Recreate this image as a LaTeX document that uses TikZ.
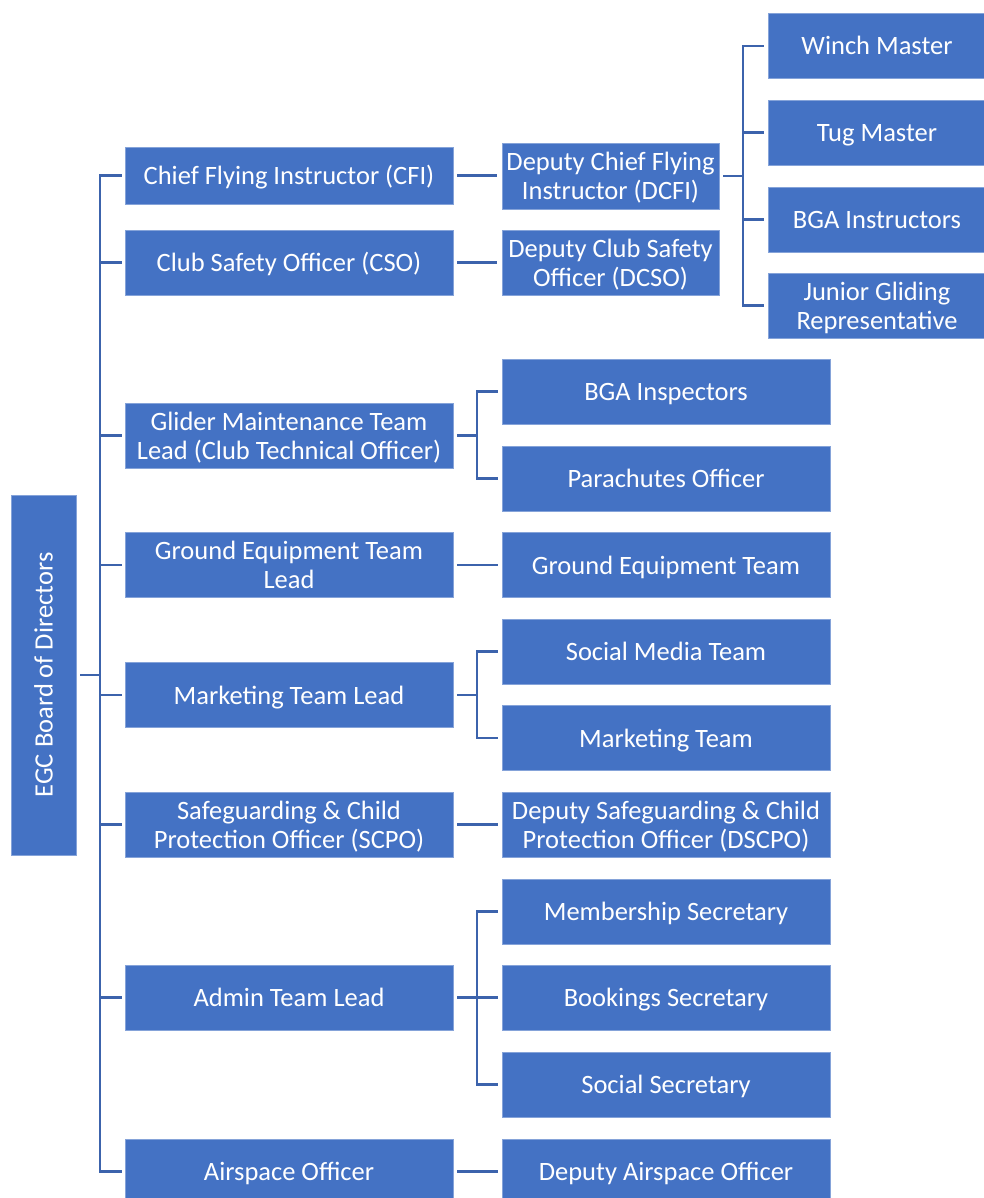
\documentclass[tikz,border=0pt]{standalone}
\usepackage{fontspec}
\usepackage{graphicx}
\setmainfont{Carlito}
\definecolor{boxblue}{HTML}{4472C4}
\definecolor{lineblue}{HTML}{3C63AC}
\newcommand\fstr{\rule[-8pt]{0pt}{34pt}}
\newcommand\lstr{\rule[-8pt]{0pt}{29pt}}
\begin{document}
\begin{tikzpicture}[x=1pt,y=-1pt,
  box/.style={rectangle, fill=boxblue, draw=white!35!boxblue, line width=0.8pt,
    text=white, font=\fontsize{26.5}{29}\selectfont, align=center,
    inner sep=0pt, minimum height=65pt},
  one/.style={text height=23pt, text depth=5pt},
  cone/.style={box, minimum width=328pt},
  ctwo/.style={box, minimum width=328pt},
  cnarrow/.style={box, minimum width=217pt},
  cthree/.style={box, minimum width=218pt},
  conn/.style={draw=lineblue, line width=2.2pt}
]
\useasboundingbox (0,0) rectangle (984,1198);
\clip (0,0) rectangle (984,1198);
\fill[white] (0,0) rectangle (984,1198);

% board
\node[box, minimum width=65pt, minimum height=360pt] (board) at (43.5,675) {\rotatebox{90}{EGC Board of Directors}};

% column 1
\node[cone, one, minimum height=57pt] (cfi) at (289,175.5) {Chief Flying Instructor (CFI)};
\node[cone, one] (cso) at (289,262.5) {Club Safety Officer (CSO)};
\node[cone] (glider) at (289,435.5) {\fstr Glider Maintenance Team\\\lstr Lead (Club Technical Officer)};
\node[cone] (gel) at (289,565) {\fstr Ground Equipment Team\\\lstr Lead};
\node[cone, one] (mtl) at (289,695) {Marketing Team Lead};
\node[cone] (scpo) at (289,824.5) {\fstr Safeguarding \& Child\\\lstr Protection Officer (SCPO)};
\node[cone, one] (admin) at (289,997.5) {Admin Team Lead};
\node[cone, one] (air) at (289,1171.5) {Airspace Officer};

% column 2
\node[cnarrow, minimum height=66pt] (dcfi) at (610.5,176) {\fstr Deputy Chief Flying\\\lstr Instructor (DCFI)};
\node[cnarrow] (dcso) at (610.5,262.5) {\fstr Deputy Club Safety\\\lstr Officer (DCSO)};
\node[ctwo, one] (bgai) at (666,391.5) {BGA Inspectors};
\node[ctwo, one] (para) at (666,478.5) {Parachutes Officer};
\node[ctwo, one] (get) at (666,565) {Ground Equipment Team};
\node[ctwo, one] (smt) at (666,651.5) {Social Media Team};
\node[ctwo, one] (mt) at (666,738) {Marketing Team};
\node[ctwo] (dscpo) at (666,824.5) {\fstr Deputy Safeguarding \& Child\\\lstr Protection Officer (DSCPO)};
\node[ctwo, one] (mem) at (666,911.5) {Membership Secretary};
\node[ctwo, one] (book) at (666,997.5) {Bookings Secretary};
\node[ctwo, one] (soc) at (666,1084.5) {Social Secretary};
\node[ctwo, one] (dair) at (666,1171.5) {Deputy Airspace Officer};

% column 3
\node[cthree, one] (winch) at (877,46) {Winch Master};
\node[cthree, one] (tug) at (877,132.5) {Tug Master};
\node[cthree, one] (bgain) at (877,219.5) {BGA Instructors};
\node[cthree] (jgr) at (877,305.5) {\fstr Junior Gliding\\\lstr Representative};

% bus coordinates
\coordinate (trunk) at (100,0);
\coordinate (bus) at (477,0);
\coordinate (busb) at (743,0);

% board to column 1
\draw[conn, shorten <=4pt] (board.east) -- (trunk |- board.east);
\draw[conn, shorten <=3pt, shorten >=3pt] (cfi.west) -| (trunk |- air.west) -- (air.west);
\foreach \n in {cso,glider,gel,mtl,scpo,admin}
  \draw[conn, shorten >=3pt] (trunk |- \n.west) -- (\n.west);

% single links
\draw[conn, shorten <=4pt, shorten >=5pt] (cfi.east) -- (cfi.east -| dcfi.west);
\draw[conn, shorten <=4pt, shorten >=5pt] (cso.east) -- (dcso.west);
\draw[conn, shorten <=4pt, shorten >=4pt] (gel.east) -- (get.west);
\draw[conn, shorten <=4pt, shorten >=4pt] (scpo.east) -- (dscpo.west);
\draw[conn, shorten <=4pt, shorten >=4pt] (air.east) -- (dair.west);

% glider bracket
\draw[conn, shorten <=4pt] (glider.east) -- (bus |- glider.east);
\draw[conn, shorten <=4pt, shorten >=4pt] (bgai.west) -| (bus |- para.west) -- (para.west);

% marketing bracket
\draw[conn, shorten <=4pt] (mtl.east) -- (bus |- mtl.east);
\draw[conn, shorten <=4pt, shorten >=4pt] (smt.west) -| (bus |- mt.west) -- (mt.west);

% admin bracket
\draw[conn, shorten <=4pt, shorten >=4pt] (admin.east) -- (book.west);
\draw[conn, shorten <=4pt, shorten >=4pt] (mem.west) -| (bus |- soc.west) -- (soc.west);

% DCFI bracket
\draw[conn, shorten <=4pt] (dcfi.east) -- (busb |- dcfi.east);
\draw[conn, shorten <=4pt, shorten >=4pt] (winch.west) -| (busb |- jgr.west) -- (jgr.west);
\draw[conn, shorten >=4pt] (busb |- tug.west) -- (tug.west);
\draw[conn, shorten >=4pt] (busb |- bgain.west) -- (bgain.west);
\end{tikzpicture}
\end{document}
